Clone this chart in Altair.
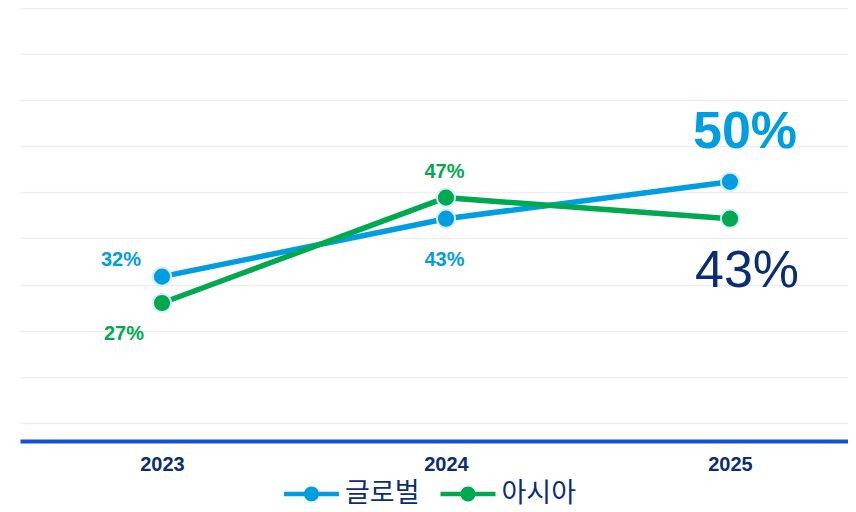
import altair as alt
import pandas as pd

years = [2023, 2024, 2025]
series_names = ["글로벌", "아시아"]
global_values = [32, 43, 50]
asia_values = [27, 47, 43]
grid_values = [4.25, 13, 21.75, 30.5, 39.25, 48, 56.75, 65.5, 74.25, 83]

BLUE = "#009DE0"
GREEN = "#00A94F"
NAVY = "#0B2D73"
BASE_BLUE = "#1450D8"

rows = []
for name, vals in zip(series_names, [global_values, asia_values]):
    for yr, v in zip(years, vals):
        rows.append({"year": yr, "series": name, "value": v, "label": f"{v}%"})
df = pd.DataFrame(rows)

x = alt.X(
    "year:Q",
    scale=alt.Scale(domain=[2022.5, 2025.4155], nice=False, zero=False),
    axis=alt.Axis(values=years, format="d", title=None, grid=False, ticks=False,
                  domainColor=BASE_BLUE, domainWidth=4,
                  labelFont="Liberation Sans", labelFontSize=20, labelFontWeight="bold",
                  labelColor=NAVY, labelPadding=13),
)
y = alt.Y(
    "value:Q",
    scale=alt.Scale(domain=[0.8, 83], nice=False, zero=False),
    axis=alt.Axis(values=grid_values, labels=False, ticks=False, domain=False, title=None,
                  gridColor="#EEEEEE", gridWidth=1.5),
)

# legend glyph: thick line with a dot, drawn wider than its layout box
legend_path = ("M-1.964,-0.16H1.964V0.16H-1.964Z "
               "M0.536,0A0.536,0.536 0 1,1 -0.536,0A0.536,0.536 0 1,1 0.536,0Z")

color = alt.Color(
    "series:N",
    scale=alt.Scale(domain=series_names, range=[BLUE, GREEN]),
    legend=alt.Legend(title=None, orient="none", direction="horizontal",
                      legendX=277.5, legendY=472,
                      symbolType=legend_path, symbolSize=784, symbolStrokeWidth=0,
                      labelFont="Noto Sans CJK KR", labelFontSize=27, labelColor=NAVY,
                      labelOffset=19.5, columnPadding=19.5),
)

base = alt.Chart(df).encode(x=x, y=y)

lines = base.mark_line(strokeWidth=5.5).encode(color=color)
points = base.mark_point(filled=True, size=330, stroke="#D6ECFA", strokeWidth=2, opacity=1).encode(
    color=color)


def label_layer(series, year, dx, dy, size, weight, col):
    return base.transform_filter(
        (alt.datum.series == series) & (alt.datum.year == year)
    ).mark_text(dx=dx, dy=dy, fontSize=size, fontWeight=weight, color=col,
                font="Liberation Sans").encode(text="label:N")


labels = [
    label_layer("글로벌", 2023, -41, -17, 20, "bold", BLUE),
    label_layer("아시아", 2023, -38, 31, 20, "bold", GREEN),
    label_layer("아시아", 2024, -1.5, -25.5, 20, "bold", GREEN),
    label_layer("글로벌", 2024, -1.5, 41.5, 20, "bold", BLUE),
    label_layer("글로벌", 2025, 15, -49.5, 52, "bold", BLUE),
    label_layer("아시아", 2025, 17, 52, 52, "normal", NAVY),
]

chart = alt.layer(lines, points, *labels).properties(
    width=828, height=433,
    padding={"left": 12, "top": 0, "right": 0, "bottom": 0},
).configure_view(stroke=None)

chart.save("out.html", embed_options={"renderer": "svg", "actions": False})
